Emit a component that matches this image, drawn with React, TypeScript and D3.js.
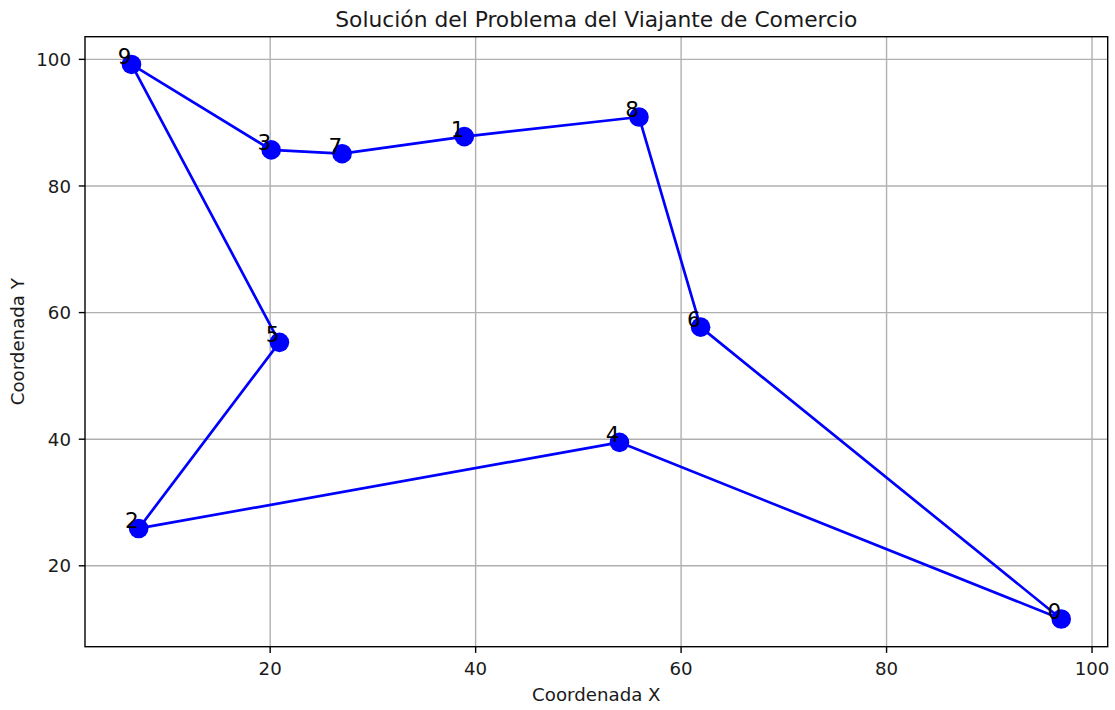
import React from "react";
import * as d3 from "d3";

// City coordinates, indexed by city number
const cityX = [97.0, 38.9, 7.2, 20.1, 54.0, 20.9, 61.9, 27.0, 55.9, 6.5];
const cityY = [11.6, 87.8, 25.9, 85.7, 39.5, 55.3, 57.7, 85.1, 90.9, 99.2];
// Visiting order of the solved tour (closed loop)
const tour = [0, 4, 2, 5, 9, 3, 7, 1, 8, 6, 0];
const xTicks = [20, 40, 60, 80, 100];
const yTicks = [20, 40, 60, 80, 100];

const W = 1115;
const H = 710;
const left = 85;
const right = 1107.7;
const top = 36.7;
const bottom = 646.7;
const FONT = "'DejaVu Sans', sans-serif";
const BLUE = "#0000ff";
const TEXT = "#1a1a1a";

function padded(vals: number[]): [number, number] {
  const [lo, hi] = d3.extent(vals) as [number, number];
  const m = (hi - lo) * 0.05;
  return [lo - m, hi + m];
}

export default function App() {
  const x = d3.scaleLinear().domain(padded(cityX)).range([left, right]);
  const y = d3.scaleLinear().domain(padded(cityY)).range([bottom, top]);
  const line = d3
    .line<number>()
    .x((i) => x(cityX[i]))
    .y((i) => y(cityY[i]));

  const tick = 6.2;
  const cx = (left + right) / 2;
  const cy = (top + bottom) / 2;
  const tickFont = 18.2;

  return (
    <div style={{ position: "fixed", left: 0, top: 0, width: W, height: H, background: "#fff" }}>
      <svg width={W} height={H} style={{ display: "block" }} fontFamily={FONT}>
        <rect width={W} height={H} fill="#fff" />
        {/* grid */}
        <g stroke="#b0b0b0" strokeWidth={1.4}>
          {xTicks.map((t) => (
            <line key={"gx" + t} x1={x(t)} x2={x(t)} y1={top} y2={bottom} />
          ))}
          {yTicks.map((t) => (
            <line key={"gy" + t} x1={left} x2={right} y1={y(t)} y2={y(t)} />
          ))}
        </g>
        {/* tour path */}
        <path d={line(tour) || ""} fill="none" stroke={BLUE} strokeWidth={2.7} strokeLinejoin="round" />
        {tour.slice(0, -1).map((i) => (
          <circle key={"c" + i} cx={x(cityX[i])} cy={y(cityY[i])} r={9.8} fill={BLUE} />
        ))}
        {/* city labels */}
        {tour.slice(0, -1).map((i) => (
          <text key={"l" + i} x={x(cityX[i])} y={y(cityY[i])} textAnchor="end" fontSize={21.5} fill="#000">
            {String(i)}
          </text>
        ))}
        {/* frame */}
        <rect x={left} y={top} width={right - left} height={bottom - top} fill="none" stroke="#000" strokeWidth={1.4} />
        {/* x axis ticks */}
        {xTicks.map((t) => (
          <g key={"xt" + t}>
            <line x1={x(t)} x2={x(t)} y1={bottom} y2={bottom + tick} stroke="#000" strokeWidth={1.4} />
            <text x={x(t)} y={674.5} textAnchor="middle" fontSize={tickFont} fill={TEXT}>
              {t}
            </text>
          </g>
        ))}
        {/* y axis ticks */}
        {yTicks.map((t) => (
          <g key={"yt" + t}>
            <line x1={left - tick} x2={left} y1={y(t)} y2={y(t)} stroke="#000" strokeWidth={1.4} />
            <text x={71} y={y(t) + 6.6} textAnchor="end" fontSize={tickFont} fill={TEXT}>
              {t}
            </text>
          </g>
        ))}
        <text x={cx} y={701} textAnchor="middle" fontSize={tickFont} fill={TEXT}>
          Coordenada X
        </text>
        <text
          transform={`translate(24,${cy}) rotate(-90)`}
          textAnchor="middle"
          fontSize={tickFont}
          fill={TEXT}
        >
          Coordenada Y
        </text>
        <text x={cx} y={26.7} textAnchor="middle" fontSize={21.8} fill={TEXT}>
          Solución del Problema del Viajante de Comercio
        </text>
      </svg>
    </div>
  );
}
